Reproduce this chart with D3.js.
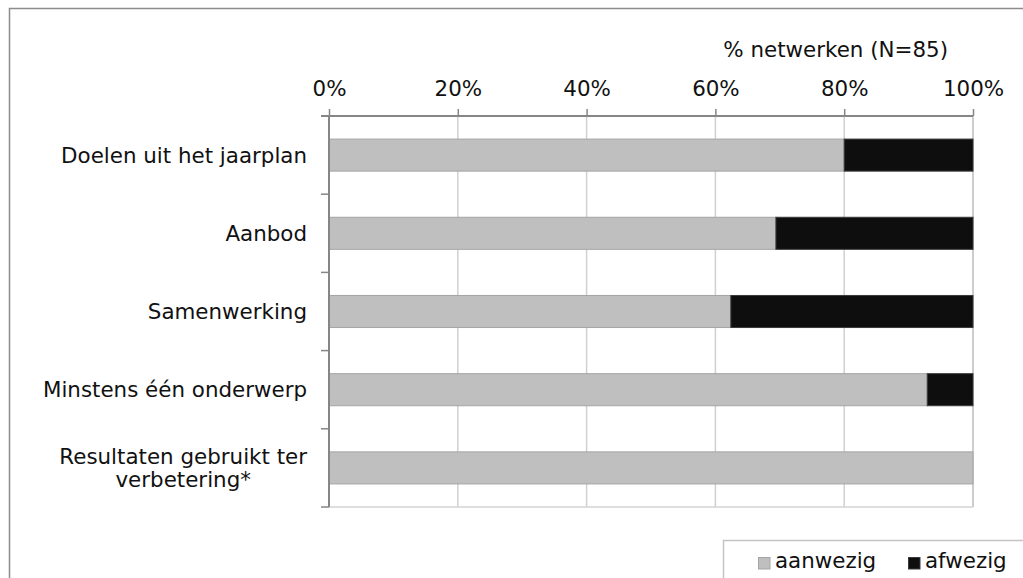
<!DOCTYPE html>
<html>
<head>
<meta charset="utf-8">
<script src="https://cdn.jsdelivr.net/npm/d3@7"></script>
<style>
  html, body { margin: 0; padding: 0; background: #fff; }
  svg { display: block; }
  text { font-family: "DejaVu Sans", Verdana, sans-serif; fill: #111; }
</style>
</head>
<body>
<svg id="chart" width="1023" height="578"></svg>
<script>
// ---- data ----
const categories = ["Doelen uit het jaarplan", "Aanbod", "Samenwerking", "Minstens één onderwerp", "Resultaten gebruikt ter verbetering*"];
const categoryLines = [["Doelen uit het jaarplan"], ["Aanbod"], ["Samenwerking"], ["Minstens één onderwerp"], ["Resultaten gebruikt ter", "verbetering*"]];
const seriesNames = ["aanwezig", "afwezig"];
const aanwezig = [80.0, 69.4, 62.4, 92.9, 100.0];
const afwezig = [20.0, 30.6, 37.6, 7.1, 0.0];
const tickValues = [0, 20, 40, 60, 80, 100];
const axisTitle = "% netwerken (N=85)";

// ---- layout ----
const W = 1023, H = 578;
const plot = { left: 329, right: 973, top: 116, bottom: 507 };
const colors = { aanwezig: "#bfbfbf", afwezig: "#0e0e0e" };
const strokes = { aanwezig: "#a5a5a5", afwezig: "#3a3a3a" };
const fontSize = 21.4;

const svg = d3.select("#chart");

// outer border (chart area frame)
svg.append("rect")
  .attr("x", 9.5).attr("y", 8.5)
  .attr("width", W + 20).attr("height", H + 20)
  .attr("fill", "none").attr("stroke", "#8c8c8c").attr("stroke-width", 1.5);

const x = d3.scaleLinear().domain([0, 100]).range([plot.left, plot.right]);
const y = d3.scaleBand().domain(categories).range([plot.top, plot.bottom])
  .paddingInner(0.59).paddingOuter(0.295);

// gridlines
svg.append("g").selectAll("line")
  .data(tickValues.filter(d => d > 0))
  .join("line")
  .attr("x1", d => x(d)).attr("x2", d => x(d))
  .attr("y1", plot.top).attr("y2", plot.bottom)
  .attr("stroke", d => d === 100 ? "#bdbdbd" : "#d0d0d0").attr("stroke-width", 1.5);

// bottom light line
svg.append("line")
  .attr("x1", plot.left).attr("x2", plot.right)
  .attr("y1", plot.bottom).attr("y2", plot.bottom)
  .attr("stroke", "#d3d3d3").attr("stroke-width", 1.5);

// stacked bars
const rows = categories.map((c, i) => ({ cat: c, aanwezig: aanwezig[i], afwezig: afwezig[i] }));
const stack = d3.stack().keys(seriesNames)(rows);
svg.append("g").selectAll("g")
  .data(stack)
  .join("g")
  .attr("fill", d => colors[d.key])
  .attr("stroke", d => strokes[d.key])
  .attr("stroke-width", 1)
  .selectAll("rect")
  .data(d => d.filter(s => s[1] - s[0] > 0))
  .join("rect")
  .attr("x", d => x(d[0]))
  .attr("y", d => y(d.data.cat))
  .attr("width", d => x(d[1]) - x(d[0]))
  .attr("height", y.bandwidth());

// x axis (top)
const xAxis = d3.axisTop(x).tickValues(tickValues).tickSize(7).tickPadding(13)
  .tickFormat(d => d + "%");
const gx = svg.append("g").attr("transform", `translate(0,${plot.top})`).call(xAxis);
gx.select(".domain").attr("stroke", "#868686").attr("stroke-width", 2).attr("d", `M${plot.left - 8},0H${plot.right}`);
gx.selectAll(".tick line").attr("stroke", "#868686").attr("stroke-width", 1.5);
gx.selectAll(".tick text").attr("font-size", fontSize).attr("font-family", "DejaVu Sans").attr("fill", "#111");

// y axis (left) - line and boundary ticks
const step = y.step();
const boundaries = d3.range(categories.length + 1).map(i => plot.top + i * step);
const gy = svg.append("g");
gy.append("line")
  .attr("x1", plot.left).attr("x2", plot.left)
  .attr("y1", plot.top).attr("y2", plot.bottom)
  .attr("stroke", "#868686").attr("stroke-width", 2);
gy.selectAll("line.tk").data(boundaries).join("line").attr("class", "tk")
  .attr("x1", plot.left - 8).attr("x2", plot.left)
  .attr("y1", d => d).attr("y2", d => d)
  .attr("stroke", "#868686").attr("stroke-width", 1.5);

// category labels
const labelG = svg.append("g");
categories.forEach((c, i) => {
  const lines = categoryLines[i];
  const cy = y(c) + y.bandwidth() / 2;
  if (lines.length === 1) {
    labelG.append("text")
      .attr("x", 307).attr("y", cy).attr("dy", "0.36em")
      .attr("text-anchor", "end").attr("font-size", fontSize)
      .text(lines[0]);
  } else {
    const t = labelG.append("text").attr("font-size", fontSize).attr("text-anchor", "middle");
    const t1 = t.append("tspan").attr("y", cy - 11.5).attr("dy", "0.36em").text(lines[0]);
    const w = t1.node().getComputedTextLength();
    const cx = 307 - w / 2;
    t1.attr("x", cx);
    t.append("tspan").attr("x", cx).attr("y", cy + 11.5).attr("dy", "0.36em").text(lines[1]);
  }
});

// axis title
svg.append("text")
  .attr("x", 948).attr("y", 57)
  .attr("text-anchor", "end").attr("font-size", fontSize)
  .text(axisTitle);

// legend
const lg = svg.append("g");
lg.append("rect")
  .attr("x", 723.5).attr("y", 540.5).attr("width", 340).attr("height", 80)
  .attr("fill", "#fff").attr("stroke", "#c4c4c4").attr("stroke-width", 1.5);
const legendX = [758, 908];
seriesNames.forEach((s, i) => {
  lg.append("rect")
    .attr("x", legendX[i] + 0.5).attr("y", 557.5).attr("width", 11.5).attr("height", 11.5)
    .attr("fill", colors[s]).attr("stroke", strokes[s]).attr("stroke-width", 1);
  lg.append("text")
    .attr("x", legendX[i] + 17).attr("y", 568)
    .attr("font-size", fontSize).text(s);
});
</script>
</body>
</html>
